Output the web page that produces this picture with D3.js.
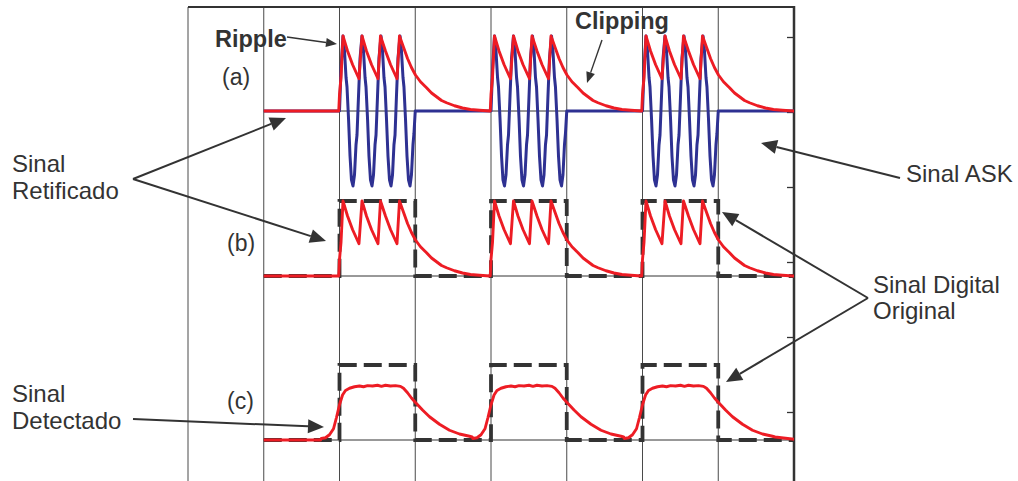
<!DOCTYPE html>
<html>
<head>
<meta charset="utf-8">
<script src="https://cdn.jsdelivr.net/npm/d3@7"></script>
<style>
  html, body { margin: 0; padding: 0; background: #fff; }
  svg { display: block; }
  text { font-family: "Liberation Sans", Arial, Helvetica, sans-serif; fill: #333; }
</style>
</head>
<body>
<svg id="chart" width="1018" height="481"></svg>
<script>
// ---- data (time in bit periods) ----
const gridTimes = [0, 1, 2, 3, 4, 5, 6, 7, 8];
const rightTicks = [1, 2, 3, 4, 5, 6];
const signalSpan = [1, 8];
const bitStarts = [2, 4, 6];

// original digital signal (0/1)
const digitalSignal = [
  [1, 0], [2, 0], [2, 1], [3, 1], [3, 0], [4, 0], [4, 1],
  [5, 1], [5, 0], [6, 0], [6, 1], [7, 1], [7, 0], [8, 0]
];

// one ASK carrier burst during a "1" bit: [offset in bits, amplitude]
const askBurst = [
  [0.000, 0.00], [0.020, 0.55], [0.046, 1.00], [0.066, 0.80], [0.086, 0.45], [0.099, 0.32],
  [0.119, -0.10], [0.139, -0.60], [0.158, -0.92], [0.178, -1.00], [0.198, -0.85], [0.218, -0.45],
  [0.231, -0.32], [0.251, 0.20], [0.271, 0.70], [0.297, 1.00], [0.317, 0.80], [0.337, 0.45],
  [0.350, 0.32], [0.370, -0.10], [0.389, -0.60], [0.409, -0.92], [0.429, -1.00], [0.449, -0.85],
  [0.469, -0.45], [0.482, -0.32], [0.502, 0.20], [0.521, 0.70], [0.548, 1.00], [0.568, 0.80],
  [0.587, 0.45], [0.601, 0.32], [0.620, -0.10], [0.640, -0.60], [0.660, -0.92], [0.680, -1.00],
  [0.700, -0.85], [0.719, -0.45], [0.733, -0.32], [0.752, 0.20], [0.772, 0.70], [0.799, 1.00],
  [0.818, 0.80], [0.838, 0.45], [0.851, 0.32], [0.871, -0.10], [0.891, -0.60], [0.911, -0.92],
  [0.931, -1.00], [0.950, -0.85], [0.970, -0.45], [0.983, -0.30], [1.000, 0.00]
];

// rectified (envelope with ripple) for one "1" bit and its decay
const rectifiedPulse = [
  [-0.010, 0.00], [0.000, 0.22], [0.020, 0.45], [0.046, 1.00], [0.106, 0.80], [0.172, 0.62],
  [0.257, 0.43], [0.297, 1.00], [0.356, 0.80], [0.422, 0.62], [0.508, 0.43], [0.541, 1.00],
  [0.607, 0.80], [0.673, 0.62], [0.759, 0.43], [0.792, 1.00], [0.845, 0.85], [0.898, 0.70],
  [0.950, 0.58], [1.003, 0.48], [1.069, 0.39], [1.149, 0.31], [1.215, 0.24], [1.281, 0.19],
  [1.347, 0.14], [1.413, 0.11], [1.518, 0.07], [1.624, 0.04], [1.729, 0.02], [1.848, 0.01],
  [1.985, 0.00]
];

// detected (filtered) output for one "1" bit
const detectedPulse = [
  [-0.240, 0.02], [-0.185, 0.03], [-0.132, 0.07], [-0.079, 0.15], [-0.040, 0.30], [0.000, 0.47],
  [0.040, 0.60], [0.079, 0.66], [0.132, 0.69], [0.198, 0.71], [0.264, 0.72], [0.317, 0.71],
  [0.370, 0.725], [0.436, 0.72], [0.502, 0.73], [0.554, 0.715], [0.607, 0.73], [0.673, 0.72],
  [0.739, 0.725], [0.805, 0.715], [0.845, 0.69], [0.898, 0.63], [0.950, 0.56], [1.003, 0.50],
  [1.050, 0.45], [1.096, 0.40], [1.188, 0.31], [1.320, 0.21], [1.452, 0.13], [1.584, 0.08],
  [1.716, 0.05], [1.750, 0.04]
];

// ---- build full traces from the per-bit shapes ----
const askSignal = [[signalSpan[0], 0]];
bitStarts.forEach(s => askBurst.forEach(([dt, v]) => askSignal.push([s + dt, v])));
askSignal.push([signalSpan[1], 0]);

const rectifiedSignal = [[signalSpan[0], 0]];
bitStarts.forEach(s => rectifiedPulse.forEach(([dt, v]) => rectifiedSignal.push([s + dt, v])));
rectifiedSignal.push([signalSpan[1], 0]);

const detectedSignal = [[signalSpan[0], 0], [bitStarts[0] - 0.25, 0]];
bitStarts.forEach(s => detectedPulse.forEach(([dt, v]) => detectedSignal.push([s + dt, v])));
detectedSignal.push([signalSpan[1], 0.01]);

// ---- layout ----
const svg = d3.select("#chart");
const frame = { left: 188, right: 794, top: 7, bottom: 481 };

const x = d3.scaleLinear().domain([0, 8]).range([frame.left, frame.right]);
const yA = d3.scaleLinear().domain([-1, 1]).range([186, 36]);   // panel (a)
const yB = d3.scaleLinear().domain([0, 1]).range([276, 201]);   // panel (b)
const yC = d3.scaleLinear().domain([0, 1]).range([440, 365]);   // panel (c)
const yTicks = d3.scaleLinear().domain([0, 6]).range([487, 37]);

const RED = "#ED1C24", BLUE = "#2E3192", INK = "#333";

// vertical grid
svg.append("g").selectAll("line").data(gridTimes).join("line")
  .attr("x1", d => x(d)).attr("x2", d => x(d))
  .attr("y1", frame.top).attr("y2", frame.bottom)
  .attr("stroke", "#4a4a4a").attr("stroke-width", 1);

// top border
svg.append("line")
  .attr("x1", x(0)).attr("x2", x(8)).attr("y1", frame.top).attr("y2", frame.top)
  .attr("stroke", INK).attr("stroke-width", 2);

// zero lines for each panel
[yA, yB, yC].forEach(y => {
  svg.append("line")
    .attr("x1", x(signalSpan[0])).attr("x2", x(signalSpan[1]))
    .attr("y1", y(0)).attr("y2", y(0))
    .attr("stroke", INK).attr("stroke-width", 1);
});

// right axis with inward ticks
const rightAxis = svg.append("g")
  .attr("transform", `translate(${x(8)},0)`)
  .call(d3.axisLeft(yTicks).tickValues(rightTicks).tickSize(7).tickFormat(""));
rightAxis.select(".domain").remove();
rightAxis.selectAll("line").attr("stroke", INK).attr("stroke-width", 1.3);
svg.append("line")
  .attr("x1", x(8)).attr("x2", x(8)).attr("y1", frame.top - 1).attr("y2", frame.bottom)
  .attr("stroke", INK).attr("stroke-width", 2.5);

// traces
const lineOf = y => d3.line().x(d => x(d[0])).y(d => y(d[1]));

svg.append("path").datum(askSignal)
  .attr("d", lineOf(yA)).attr("fill", "none")
  .attr("stroke", BLUE).attr("stroke-width", 3).attr("stroke-linejoin", "round");
svg.append("path").datum(rectifiedSignal)
  .attr("d", lineOf(yA)).attr("fill", "none")
  .attr("stroke", RED).attr("stroke-width", 2.9).attr("stroke-linejoin", "round");

[[yB, rectifiedSignal], [yC, detectedSignal]].forEach(([y, sig]) => {
  svg.append("path").datum(digitalSignal)
    .attr("d", lineOf(y)).attr("fill", "none")
    .attr("stroke", INK).attr("stroke-width", 3.8).attr("stroke-dasharray", "18,7");
  svg.append("path").datum(sig)
    .attr("d", lineOf(y)).attr("fill", "none")
    .attr("stroke", RED).attr("stroke-width", 2.9).attr("stroke-linejoin", "round");
});

// ---- annotations ----
function arrow(x1, y1, x2, y2, headLen, headHalf, width) {
  const ang = Math.atan2(y2 - y1, x2 - x1);
  const bx = x2 - headLen * Math.cos(ang), by = y2 - headLen * Math.sin(ang);
  svg.append("line")
    .attr("x1", x1).attr("y1", y1).attr("x2", bx).attr("y2", by)
    .attr("stroke", INK).attr("stroke-width", width);
  const px = -Math.sin(ang) * headHalf, py = Math.cos(ang) * headHalf;
  svg.append("path")
    .attr("d", `M${x2},${y2}L${bx + px},${by + py}L${bx - px},${by - py}Z`)
    .attr("fill", INK);
}

arrow(287, 37, 337, 44, 11, 4.5, 1.4);      // Ripple
arrow(602, 40, 587, 83, 11, 4.5, 1.4);      // Clipping
arrow(133, 179, 286, 118, 16, 7, 2);        // Sinal Retificado -> (a)
arrow(133, 179, 326, 241, 16, 7, 2);        // Sinal Retificado -> (b)
arrow(133, 419, 324, 427, 16, 7, 2);        // Sinal Detectado
arrow(900, 178, 761, 143, 16, 7, 2);        // Sinal ASK
arrow(868, 298, 722, 212, 16, 7, 2);        // Sinal Digital -> (b)
arrow(868, 298, 726, 382, 16, 7, 2);        // Sinal Digital -> (c)

const labels = [
  { t: "Ripple", x: 215, y: 47, bold: true, size: 23.5 },
  { t: "Clipping", x: 575, y: 29, bold: true, size: 23.5 },
  { t: "(a)", x: 222, y: 85, size: 23 },
  { t: "(b)", x: 227, y: 251, size: 23 },
  { t: "(c)", x: 227, y: 409, size: 23 },
  { t: "Sinal", x: 12, y: 172, size: 24 },
  { t: "Retificado", x: 12, y: 199, size: 24 },
  { t: "Sinal", x: 12, y: 402, size: 24 },
  { t: "Detectado", x: 12, y: 429, size: 24 },
  { t: "Sinal ASK", x: 906, y: 182, size: 24 },
  { t: "Sinal Digital", x: 873, y: 293, size: 24 },
  { t: "Original", x: 873, y: 319, size: 24 }
];
svg.append("g").selectAll("text").data(labels).join("text")
  .attr("x", d => d.x).attr("y", d => d.y)
  .attr("font-size", d => d.size)
  .attr("font-weight", d => d.bold ? "bold" : "normal")
  .text(d => d.t);
</script>
</body>
</html>
